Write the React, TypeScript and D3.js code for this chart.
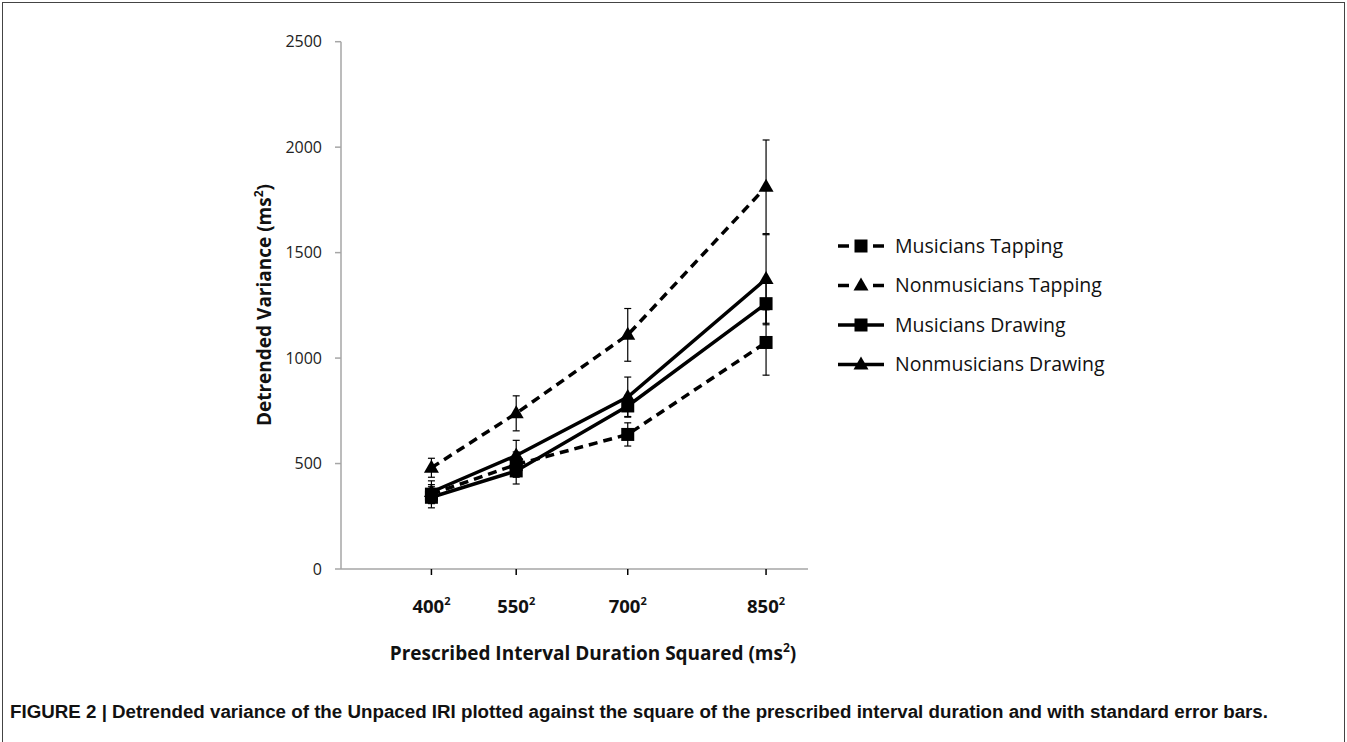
import React from "react";
import * as d3 from "d3";

const durations = [400, 550, 700, 850];
const seriesNames = ["Musicians Tapping", "Nonmusicians Tapping", "Musicians Drawing", "Nonmusicians Drawing"];
const musiciansTapping = [355, 495, 638, 1074];
const musiciansTappingErr = [45, 60, 55, 155];
const nonmusiciansTapping = [480, 738, 1110, 1812];
const nonmusiciansTappingErr = [45, 83, 125, 222];
const musiciansDrawing = [340, 465, 773, 1258];
const musiciansDrawingErr = [50, 62, 50, 100];
const nonmusiciansDrawing = [365, 538, 815, 1375];
const nonmusiciansDrawingErr = [53, 72, 95, 210];
const yTicks = [0, 500, 1000, 1500, 2000, 2500];

const series = [
  { name: seriesNames[0], values: musiciansTapping, err: musiciansTappingErr, dashed: true, marker: "square" },
  { name: seriesNames[1], values: nonmusiciansTapping, err: nonmusiciansTappingErr, dashed: true, marker: "triangle" },
  { name: seriesNames[2], values: musiciansDrawing, err: musiciansDrawingErr, dashed: false, marker: "square" },
  { name: seriesNames[3], values: nonmusiciansDrawing, err: nonmusiciansDrawingErr, dashed: false, marker: "triangle" },
];

const W = 1347;
const H = 742;
const FONT = "'Open Sans', sans-serif";

function Marker({ type, cx, cy }: { type: string; cx: number; cy: number }) {
  if (type === "square") {
    const s = 13;
    return <rect x={cx - s / 2} y={cy - s / 2} width={s} height={s} fill="#000" />;
  }
  const w = 15, h = 13;
  return <path d={`M${cx},${cy - h * 0.62}L${cx + w / 2},${cy + h * 0.38}L${cx - w / 2},${cy + h * 0.38}Z`} fill="#000" />;
}

export default function App() {
  const x = d3.scaleLinear().domain([8000, 793000]).range([341, 808]);
  const y = d3.scaleLinear().domain([0, 2500]).range([569, 41.7]);
  const line = d3.line<[number, number]>().x((d) => d[0]).y((d) => d[1]);

  return (
    <svg width={W} height={H} style={{ position: "absolute", left: 0, top: 0, background: "#fff" }}>
      <rect x={2.5} y={2.5} width={1342} height={760} fill="none" stroke="#444" strokeWidth={1} />
      {/* axes */}
      <line x1={x.range()[0]} x2={x.range()[0]} y1={y(0)} y2={y(2500)} stroke="#a6a6a6" strokeWidth={1.5} />
      <line x1={x.range()[0]} x2={x.range()[1]} y1={y(0)} y2={y(0)} stroke="#a6a6a6" strokeWidth={1.5} />
      {yTicks.map((t) => (
        <g key={t}>
          <line x1={335} x2={341} y1={y(t)} y2={y(t)} stroke="#a6a6a6" strokeWidth={1.5} />
          <text x={322} y={y(t)} dy="0.36em" textAnchor="end" fontFamily={FONT} fontSize={16} fill="#222">{t}</text>
        </g>
      ))}
      {durations.map((d) => (
        <g key={d}>
          <line x1={x(d * d)} x2={x(d * d)} y1={y(0)} y2={y(0) + 6} stroke="#000" strokeWidth={1.5} />
          <text x={x(d * d)} y={613} textAnchor="middle" fontFamily={FONT} fontSize={18.5} fontWeight="bold" fill="#111">
            {d}
            <tspan fontSize={11} dy={-8}>2</tspan>
          </text>
        </g>
      ))}
      {/* axis titles */}
      <text x={593} y={660} textAnchor="middle" fontFamily={FONT} fontSize={19} fontWeight="bold" fill="#111">
        Prescribed Interval Duration Squared (ms<tspan fontSize={12} dy={-8}>2</tspan><tspan dy={8}>)</tspan>
      </text>
      <text transform={`translate(271,305) rotate(-90)`} textAnchor="middle" fontFamily={FONT} fontSize={19} fontWeight="bold" fill="#111">
        Detrended Variance (ms<tspan fontSize={12} dy={-8}>2</tspan><tspan dy={8}>)</tspan>
      </text>
      {/* error bars */}
      {series.map((s) => (
        <g key={s.name + "err"}>
          {s.values.map((v, i) => {
            const cx = x(durations[i] * durations[i]);
            const t = y(v + s.err[i]);
            const b = y(v - s.err[i]);
            return (
              <g key={i} stroke="#000" strokeWidth={1.2}>
                <line x1={cx} x2={cx} y1={t} y2={b} />
                <line x1={cx - 3.5} x2={cx + 3.5} y1={t} y2={t} />
                <line x1={cx - 3.5} x2={cx + 3.5} y1={b} y2={b} />
              </g>
            );
          })}
        </g>
      ))}
      {/* lines */}
      {series.map((s) => (
        <path
          key={s.name + "line"}
          d={line(s.values.map((v, i) => [x(durations[i] * durations[i]), y(v)]) as [number, number][]) || ""}
          fill="none"
          stroke="#000"
          strokeWidth={3.5}
          strokeDasharray={s.dashed ? "9,6" : undefined}
        />
      ))}
      {/* markers */}
      {series.map((s) => (
        <g key={s.name + "mk"}>
          {s.values.map((v, i) => (
            <Marker key={i} type={s.marker} cx={x(durations[i] * durations[i])} cy={y(v)} />
          ))}
        </g>
      ))}
      {/* legend */}
      {series.map((s, i) => {
        const ly = 246 + i * 39.5;
        return (
          <g key={s.name + "lg"}>
            {s.dashed ? (
              <>
                <line x1={838} x2={849} y1={ly} y2={ly} stroke="#000" strokeWidth={3.5} />
                <line x1={873} x2={884} y1={ly} y2={ly} stroke="#000" strokeWidth={3.5} />
              </>
            ) : (
              <line x1={838} x2={884} y1={ly} y2={ly} stroke="#000" strokeWidth={3.5} />
            )}
            <Marker type={s.marker} cx={861} cy={ly} />
            <text x={895} y={ly} dy="0.35em" fontFamily={FONT} fontSize={19.5} fill="#111">{s.name}</text>
          </g>
        );
      })}
      {/* caption */}
      <text x={10} y={718} fontFamily="'Liberation Sans', Arial, sans-serif" fontWeight="bold" fontSize={18} fill="#111" textLength={1258} lengthAdjust="spacingAndGlyphs">
        FIGURE 2 | Detrended variance of the Unpaced IRI plotted against the square of the prescribed interval duration and with standard error bars.
      </text>
    </svg>
  );
}
